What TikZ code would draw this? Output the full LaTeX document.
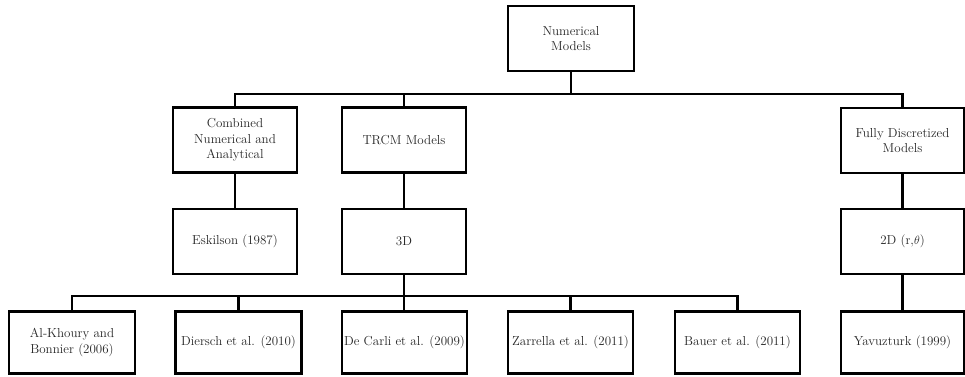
\documentclass[tikz,border=0pt]{standalone}
\begin{document}
\begin{tikzpicture}[x=1pt,y=-1pt,
  box/.style={draw=black,line width=2.4pt,fill=white,minimum width=124pt,minimum height=65pt,
    align=center,text=black!85,font=\fontsize{13}{15.5}\selectfont,inner sep=1pt},
  conn/.style={draw=black,line width=2.4pt}]
\useasboundingbox (0,0) rectangle (965,376);
\node[box,minimum width=126pt] (top) at (571,38.5) {Numerical\\Models};
\node[box] (comb) at (235,140) {Combined\\Numerical and\\Analytical};
\node[box] (trcm) at (404,140) {TRCM Models};
\node[box,minimum width=123pt] (fully) at (902.5,140.5) {Fully Discretized\\Models};
\node[box] (esk) at (235,241.5) {Eskilson (1987)};
\node[box] (d3) at (404,241.5) {3D};
\node[box,minimum width=123pt] (d2) at (902.5,241.5) {2D (r,$\theta$)};
\node[box,minimum width=126pt,minimum height=62pt] (alk) at (72,342.5) {Al-Khoury and\\Bonnier (2006)};
\node[box,minimum width=126pt,minimum height=62pt] (die) at (238.5,342.5) {Diersch et al. (2010)};
\node[box,minimum width=125pt,minimum height=62pt] (dec) at (404.5,342.5) {De Carli et al. (2009)};
\node[box,minimum width=125pt,minimum height=62pt] (zar) at (570.5,342.5) {Zarrella et al. (2011)};
\node[box,minimum width=125pt,minimum height=62pt] (bau) at (737.5,342.5) {Bauer et al. (2011)};
\node[box,minimum width=123pt,minimum height=62pt] (yav) at (902.5,342.5) {Yavuzturk (1999)};
\coordinate (bus1) at (571,94);
\coordinate (bus2) at (404,296);
\draw[conn] (top.south) -- (bus1);
\draw[conn] (comb.north) -- (comb.north |- bus1) -| (fully.north);
\draw[conn] (trcm.north) -- (trcm.north |- bus1);
\draw[conn] (comb.south) -- (esk.north);
\draw[conn] (trcm.south) -- (d3.north);
\draw[conn] (fully.south) -- (d2.north);
\draw[conn] (d2.south) -- (yav.north);
\draw[conn] (d3.south) -- (d3.south |- dec.north);
\draw[conn] (alk.north) -- (alk.north |- bus2) -| (bau.north);
\draw[conn] (die.north) -- (die.north |- bus2);
\draw[conn] (zar.north) -- (zar.north |- bus2);
\end{tikzpicture}
\end{document}
